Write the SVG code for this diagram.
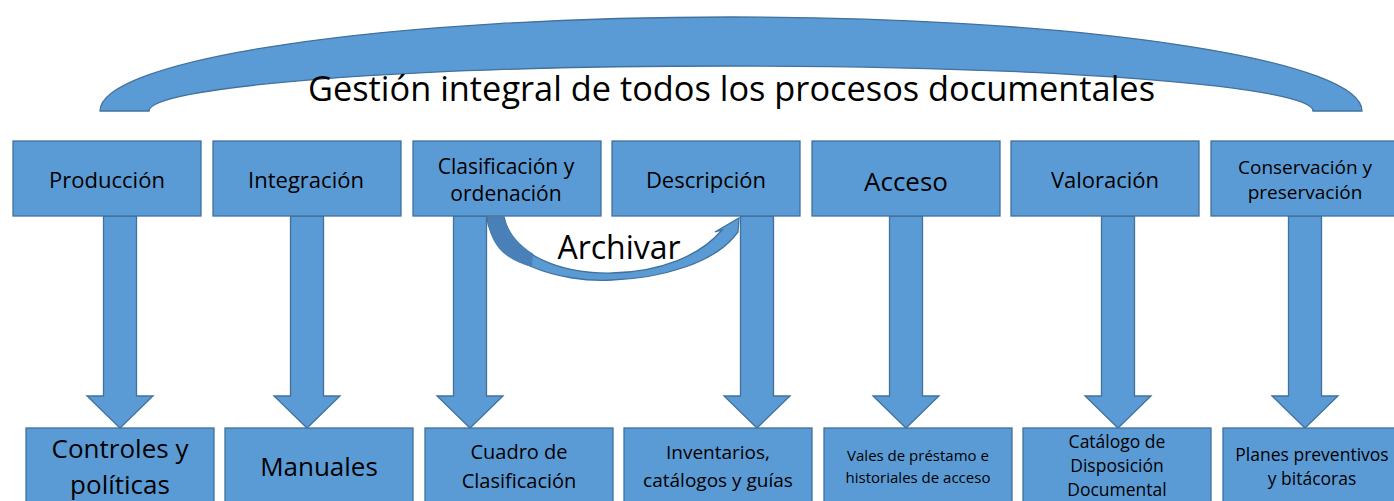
<svg xmlns="http://www.w3.org/2000/svg" width="1394" height="501" viewBox="0 0 1394 501">
<style>
.shape{fill:#5B9BD5;stroke:#41719C;stroke-width:1.3}
.dark{fill:#4A80B8;stroke:none}
text{font-family:"Open Sans","Liberation Sans",sans-serif;fill:#000;text-anchor:middle}
.t22{font-size:22px}
.t21{font-size:21px}
.t19{font-size:19px}
.t26{font-size:26px}
.t20{font-size:20px}
.t15{font-size:15px}
.t17{font-size:17.5px}
</style>
<defs>
<polygon id="dn" points="-16.5,0 16.5,0 16.5,180 33,180 0,212 -33,180 -16.5,180"/>
</defs>
<g id="arc">
<path class="shape" d="M 100 111 A 631 94 0 0 1 1362 111 L 1313 111 A 582 45 0 0 0 149 111 Z"/>
<text x="731.5" y="101" style="font-size:34px" textLength="847" lengthAdjust="spacingAndGlyphs">Gestión integral de todos los procesos documentales</text>
</g>
<g id="connectors">
<use href="#dn" class="shape" x="120" y="216"/>
<use href="#dn" class="shape" x="307" y="216"/>
<use href="#dn" class="shape" x="470" y="216"/>
<use href="#dn" class="shape" x="757" y="216"/>
<use href="#dn" class="shape" x="906" y="216"/>
<use href="#dn" class="shape" x="1118" y="216"/>
<use href="#dn" class="shape" x="1305" y="216"/>
<g id="archivar">
<path class="shape" d="M 487 217 C 490 262 560 283 612 280 C 665 278 712 262 733 238 L 738 232 L 739 218 L 715 232 L 722 230 C 700 256 660 272 612 273 C 560 274 512 255 504 217 Z"/>
<path class="dark" d="M 487.7 217.7 C 489.5 245 505 260 532 267 L 533 253.5 C 522 247 510 236 503.6 217.7 Z"/>
<text x="619" y="259" style="font-size:32px">Archivar</text>
</g>
</g>
<g id="n1"><rect class="shape" x="13" y="141" width="188" height="75"/><text class="t22" x="107" y="188">Producción</text></g>
<g id="n2"><rect class="shape" x="213" y="141" width="188" height="75"/><text class="t22" x="306" y="188">Integración</text></g>
<g id="n3"><rect class="shape" x="413" y="141" width="188" height="75"/><text class="t21" x="506" y="174">Clasificación y</text><text class="t21" x="506" y="201">ordenación</text></g>
<g id="n4"><rect class="shape" x="612" y="141" width="188" height="75"/><text class="t22" x="706" y="188">Descripción</text></g>
<g id="n5"><rect class="shape" x="812" y="141" width="188" height="75"/><text class="t26" x="906" y="191">Acceso</text></g>
<g id="n6"><rect class="shape" x="1011" y="141" width="188" height="75"/><text class="t22" x="1105" y="188">Valoración</text></g>
<g id="n7"><rect class="shape" x="1211" y="141" width="188" height="75"/><text class="t19" x="1305" y="174">Conservación y</text><text class="t19" x="1305" y="199">preservación</text></g>
<g id="b1"><rect class="shape" x="26" y="428" width="188" height="80"/><text class="t26" x="120" y="458">Controles y</text><text class="t26" x="120" y="494">políticas</text></g>
<g id="b2"><rect class="shape" x="225" y="428" width="188" height="80"/><text class="t26" x="319" y="476">Manuales</text></g>
<g id="b3"><rect class="shape" x="425" y="428" width="188" height="80"/><text class="t20" x="519" y="459">Cuadro de</text><text class="t20" x="519" y="488">Clasificación</text></g>
<g id="b4"><rect class="shape" x="624" y="428" width="188" height="80"/><text class="t19" x="718" y="459">Inventarios,</text><text class="t19" x="718" y="487">catálogos y guías</text></g>
<g id="b5"><rect class="shape" x="824" y="428" width="188" height="80"/><text class="t15" x="918" y="461">Vales de préstamo e</text><text class="t15" x="918" y="483">historiales de acceso</text></g>
<g id="b6"><rect class="shape" x="1023" y="428" width="188" height="80"/><text class="t17" x="1117" y="448">Catálogo de</text><text class="t17" x="1117" y="472">Disposición</text><text class="t17" x="1117" y="496">Documental</text></g>
<g id="b7"><rect class="shape" x="1223" y="428" width="188" height="80"/><text class="t17" x="1312" y="461">Planes preventivos</text><text class="t17" x="1312" y="485">y bitácoras</text></g>
</svg>
